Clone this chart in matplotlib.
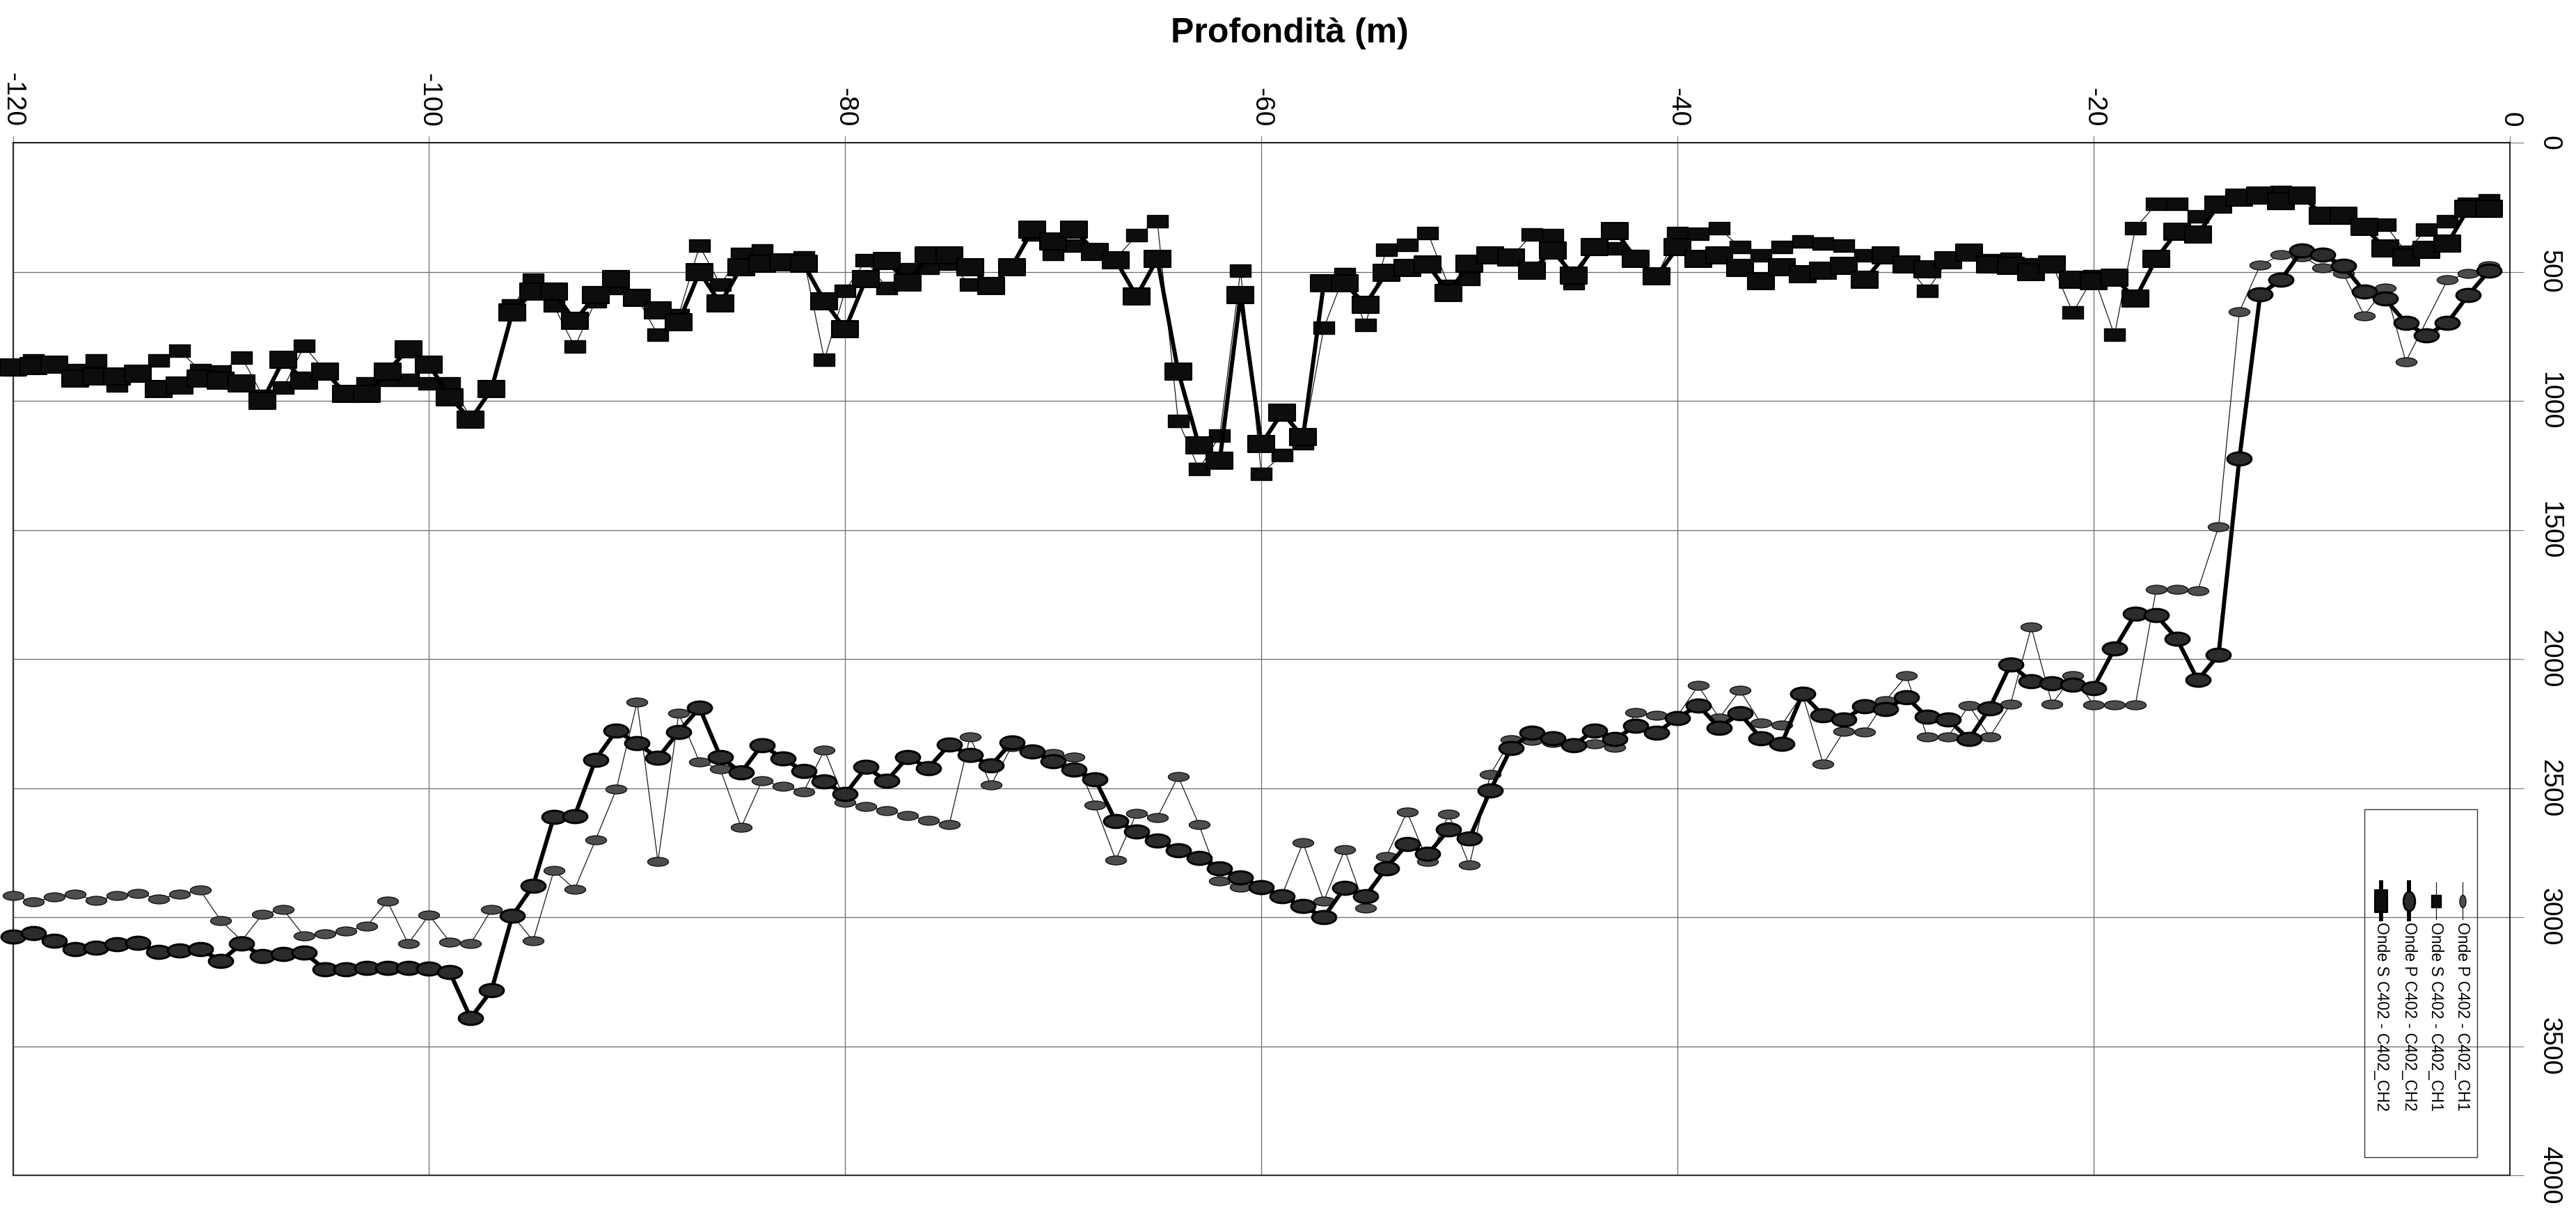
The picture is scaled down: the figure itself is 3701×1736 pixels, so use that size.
import numpy as np
import matplotlib
matplotlib.use("Agg")
import matplotlib.pyplot as plt
from matplotlib.path import Path
from matplotlib.transforms import Affine2D
from matplotlib.lines import Line2D
from matplotlib.patches import Rectangle

plt.rcParams['font.family'] = ['Liberation Sans', 'DejaVu Sans']
plt.rcParams['axes.unicode_minus'] = False

# profondita' (m), un punto ogni metro
depth = np.arange(-120, 0, 1)

# Onde P C402 - C402_CH1 (m/s)
p_ch1 = [2917, 2941, 2922, 2912, 2936, 2917, 2908, 2929, 2912, 2896,
         3014, 3091, 2988, 2971, 3074, 3065, 3054, 3035, 2939, 3103,
         2992, 3096, 3103, 2971, 2992, 3091, 2820, 2891, 2701, 2505,
         2167, 2785, 2211, 2399, 2427, 2652, 2472, 2493, 2515, 2352,
         2554, 2571, 2587, 2607, 2625, 2642, 2301, 2489, 2339, 2358,
         2367, 2379, 2565, 2778, 2598, 2614, 2455, 2642, 2861, 2884,
         2889, 2913, 2712, 2937, 2739, 2965, 2766, 2592, 2785, 2602,
         2799, 2448, 2313, 2315, 2324, 2329, 2329, 2341, 2208, 2218,
         2220, 2103, 2230, 2121, 2248, 2257, 2136, 2407, 2279, 2284,
         2161, 2066, 2302, 2302, 2180, 2302, 2175, 1877, 2175, 2064,
         2179, 2179, 2179, 1731, 1731, 1735, 1488, 655, 474, 435,
         441, 485, 508, 670, 562, 848, np.nan, 531, 508, 477]

# Onde S C402 - C402_CH1 (m/s)
s_ch1 = [880, 845, 865, 882, 844, 941, 900, 844, 805, 882,
         886, 832, 980, 950, 788, 886, 964, 932, 918, 918,
         932, 932, 1064, 950, 632, 532, 632, 791, 614, 564,
         600, 745, 668, 400, 550, 432, 418, 464, 445, 841,
         573, 455, 564, 491, 486, 468, 550, 555, 482, 355,
         432, 400, 423, 450, 359, 305, 1077, 1264, 1136, 495,
         1282, 1209, 1164, 718, 509, 705, 414, 395, 350, 555,
         527, 436, 445, 355, 359, 545, 400, 409, 440, 518,
         350, 353, 332, 405, 436, 405, 382, 391, 400, 436,
         436, 473, 573, 455, 427, 455, 450, 473, 470, 659,
         518, 745, 332, 238, 236, 286, 241, 218, 205, 191,
         205, 282, 282, 318, 318, 423, 336, 305, 236, 223]

# Onde P C402 - C402_CH2 (m/s)
p_ch2 = [3075, 3063, 3091, 3124, 3119, 3105, 3101, 3134, 3129, 3124,
         3169, 3103, 3151, 3143, 3138, 3202, 3202, 3197, 3197, 3197,
         3200, 3214, 3391, 3284, 2995, 2879, 2611, 2608, 2390, 2277,
         2327, 2383, 2282, 2189, 2379, 2440, 2333, 2385, 2434, 2475,
         2524, 2419, 2472, 2380, 2422, 2332, 2372, 2413, 2323, 2358,
         2396, 2429, 2465, 2628, 2668, 2704, 2740, 2770, 2811, 2846,
         2884, 2920, 2958, 3000, 2886, 2918, 2811, 2718, 2756, 2661,
         2695, 2510, 2345, 2287, 2306, 2334, 2277, 2310, 2258, 2285,
         2228, 2180, 2266, 2211, 2307, 2329, 2136, 2219, 2234, 2184,
         2195, 2148, 2225, 2234, 2311, 2191, 2021, 2087, 2093, 2101,
         2112, 1960, 1826, 1830, 1922, 2082, 1984, 1224, 588, 531,
         418, 435, 477, 577, 605, 698, 746, 698, 590, 497]

# Onde S C402 - C402_CH2 (m/s)
s_ch2 = [871, 865, 859, 914, 905, 905, 895, 955, 941, 914,
         923, 932, 1000, 841, 923, 886, 973, 973, 886, 800,
         859, 986, 1073, 955, 659, 577, 577, 691, 591, 527,
         600, 650, 695, 500, 623, 482, 468, 464, 470, 614,
         723, 527, 459, 543, 436, 436, 482, 555, 482, 336,
         382, 336, 423, 455, 595, 450, 886, 1173, 1232, 591,
         1168, 1045, 1141, 545, 545, 627, 505, 486, 473, 582,
         468, 436, 445, 495, 418, 514, 405, 341, 450, 518,
         405, 450, 436, 486, 536, 482, 509, 495, 477, 532,
         436, 473, 491, 455, 427, 473, 477, 500, 473, 532,
         536, 523, 605, 450, 345, 355, 241, 214, 205, 227,
         205, 282, 282, 327, 409, 445, 414, 391, 255, 255]

labels = ['Onde P C402 - C402_CH1', 'Onde S C402 - C402_CH1',
          'Onde P C402 - C402_CH2', 'Onde S C402 - C402_CH2']


def ellisse(w, h):
    return Path.unit_circle().transformed(Affine2D().scale(w, h))


def rettangolo(w, h):
    return Path([(-w, -h), (w, -h), (w, h), (-w, h), (-w, -h)],
                [Path.MOVETO, Path.LINETO, Path.LINETO, Path.LINETO, Path.CLOSEPOLY])


W, H = 3701, 1736
fig = plt.figure(figsize=(W / 100, H / 100), dpi=100)
ax = fig.add_axes([18.5 / W, 1 - 1689 / H, (3606 - 18.5) / W, (1689 - 205) / H])

# stile delle serie: linea, marker, dimensione, colore
stili = [
    dict(lw=0.9, color='#1a1a1a', marker=ellisse(1, 0.43), ms=21.6, mfc='#4d4d4d', mec='#111111', mew=1.0),
    dict(lw=0.9, color='#1a1a1a', marker=rettangolo(1, 0.63), ms=21.6, mfc='#0d0d0d', mec='#000000', mew=1.0),
    dict(lw=4.3, color='#000000', marker=ellisse(1, 0.54), ms=25, mfc='#2b2b2b', mec='#000000', mew=2.2),
    dict(lw=4.3, color='#000000', marker=rettangolo(1, 0.66), ms=27, mfc='#0d0d0d', mec='#000000', mew=1.5),
]

for serie, st in zip([p_ch1, s_ch1, p_ch2, s_ch2], stili):
    v = np.array(serie, dtype=float)
    ok = ~np.isnan(v)
    ax.plot(depth[ok], v[ok], clip_on=False, zorder=3, **st)

ax.set_xlim(-120, 0)
ax.set_ylim(4000, 0)
ax.set_xticks(np.arange(-120, 1, 20))
ax.set_yticks(np.arange(0, 4001, 500))
ax.xaxis.tick_top()
ax.yaxis.tick_right()
ax.tick_params(axis='x', direction='out', length=7.2, width=0.8, color='#777777',
               pad=9, labelsize=28, labelrotation=-90)
ax.tick_params(axis='y', direction='out', length=14.4, width=0.8, color='#777777',
               pad=13.5, labelsize=27, labelrotation=-90)
for lbl in ax.get_yticklabels():
    lbl.set_va('center')
ax.grid(True, color='#6a6a6a', lw=0.9)
ax.set_axisbelow(True)
for lato in ['top', 'right']:
    ax.spines[lato].set_color('black')
    ax.spines[lato].set_linewidth(1.2)
for lato in ['bottom', 'left']:
    ax.spines[lato].set_color('#333333')
    ax.spines[lato].set_linewidth(1.6)

fig.text(1853 / W, 1 - 48 / H, 'Profondità (m)', fontsize=36, fontweight='bold',
         ha='center', va='center')

# legenda ruotata disegnata a mano
fx = lambda px: px / W
fy = lambda py: 1 - py / H
fig.patches.append(Rectangle((fx(3397), fy(1663)), fx(3559) - fx(3397), fy(1163) - fy(1663),
                             transform=fig.transFigure, fill=False, ec='#333333', lw=1.0))
col_x = [3538, 3500, 3461, 3421]
leg_marker = [
    (ellisse(0.5, 1), 13, 1.0),
    (rettangolo(0.83, 1), 13, 1.0),
    (ellisse(0.6, 1), 20, 2.0),
    (rettangolo(0.56, 1), 23, 1.5),
]
for x, st, (mk, ms, mew), lab in zip(col_x, stili, leg_marker, labels):
    fig.lines.append(Line2D([fx(x), fx(x)], [fy(1268), fy(1321)], transform=fig.transFigure,
                            lw=st['lw'], color=st['color']))
    fig.lines.append(Line2D([fx(x)], [fy(1295)], transform=fig.transFigure, ls='none',
                            marker=mk, ms=ms, mfc=st['mfc'], mec=st['mec'], mew=mew))
    fig.text(fx(x), fy(1325), lab, rotation=-90, fontsize=16.5, ha='center', va='top')

fig.savefig('out.png', dpi=100)
